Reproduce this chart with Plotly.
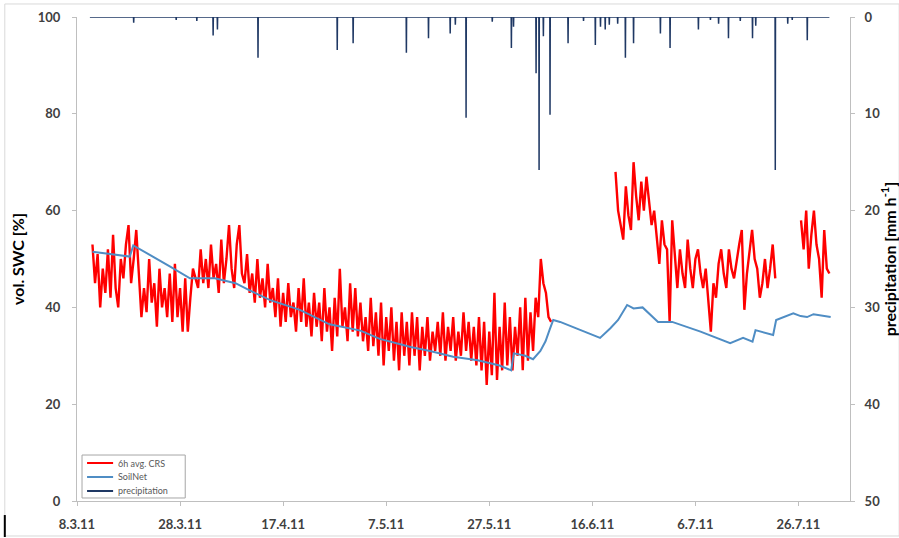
import pandas as pd
import plotly.graph_objects as go

# ---------------- data ----------------
# 6h avg. CRS soil water content [%], sampled every 12 h, three segments
crs_seg1_start = "2011-03-11 00:00"
crs_seg1 = [53, 45, 51, 40, 48, 43, 52, 42, 55, 44, 40, 50, 46, 53, 57, 45, 50, 56, 47, 38,
            44, 39, 50, 41, 45, 36, 48, 40, 44, 38, 47, 37, 49, 38, 44, 35, 46, 35, 42, 48,
            46, 44, 52, 45, 50, 44, 53, 46, 49, 43, 54, 45, 50, 57, 48, 44, 53, 57, 47, 45,
            51, 43, 47, 41, 50, 42, 46, 40, 49, 41, 44, 38, 46, 36, 43, 37, 45, 38, 41, 35,
            44, 37, 46, 36, 41, 34, 43, 36, 41, 33, 44, 35, 40, 31, 42, 34, 48, 36, 40, 33,
            45, 35, 44, 34, 41, 33, 38, 31, 42, 32, 39, 30, 41, 28, 38, 31, 40, 29, 37, 27,
            39, 30, 37, 28, 39, 30, 38, 27, 36, 30, 38, 29, 35, 31, 37, 30, 39, 29, 36, 31,
            38, 29, 35, 30, 39, 31, 37, 29, 36, 28, 38, 27, 37, 24, 35, 26, 43, 25, 36, 27,
            41, 28, 38, 27, 36, 30, 40, 27, 42, 29, 39, 31, 42, 38, 50, 45, 43, 38, 37]
crs_seg2_start = "2011-06-20 12:00"
crs_seg2 = [68, 60, 57, 54, 65, 59, 56, 70, 63, 58, 66, 60, 67, 62, 57, 60, 55, 49, 58, 53,
            52, 37, 58, 50, 44, 52, 47, 44, 54, 48, 44, 50, 52, 47, 44, 48, 42, 35, 45, 42,
            49, 52, 47, 44, 52, 48, 46, 50, 53, 56, 39.5, 47, 51, 56, 50, 48, 42, 45, 50, 44,
            48, 53, 46]
crs_seg3_start = "2011-07-26 12:00"
crs_seg3 = [58, 52, 60, 48, 55, 60, 53, 50, 42, 56, 48, 47]
crs_step = "12h"

# SoilNet soil water content [%]
soilnet_dates = ["2011-03-11 00:00", "2011-03-18 06:00", "2011-03-18 22:00", "2011-03-22 00:00",
                 "2011-03-26 00:00", "2011-03-29 22:00", "2011-04-03 18:00", "2011-04-07 18:00",
                 "2011-04-10 12:00", "2011-04-14 12:00", "2011-04-20 06:00", "2011-04-26 00:00",
                 "2011-05-02 00:00", "2011-05-05 18:00", "2011-05-11 18:00", "2011-05-15 12:00",
                 "2011-05-20 00:00", "2011-05-24 18:00", "2011-05-29 00:00", "2011-05-31 06:00",
                 "2011-05-31 18:00", "2011-06-03 00:00", "2011-06-04 12:00", "2011-06-05 22:00",
                 "2011-06-06 22:00", "2011-06-07 18:00", "2011-06-08 10:00", "2011-06-09 18:00",
                 "2011-06-13 18:00", "2011-06-17 12:00", "2011-06-19 12:00", "2011-06-21 00:00",
                 "2011-06-22 18:00", "2011-06-24 00:00", "2011-06-25 18:00", "2011-06-28 18:00",
                 "2011-07-01 12:00", "2011-07-07 00:00", "2011-07-12 18:00", "2011-07-15 06:00",
                 "2011-07-17 02:00", "2011-07-17 16:00", "2011-07-21 02:00", "2011-07-21 16:00",
                 "2011-07-25 00:00", "2011-07-26 10:00", "2011-07-27 16:00", "2011-07-28 22:00",
                 "2011-08-01 06:00"]
soilnet_values = [51.5, 50.5, 52.8, 51, 48.5, 46, 46, 45, 43.5, 41.5, 39.5, 36.5,
                  35.2, 33.5, 31.8, 31, 29.8, 29.1, 28, 27, 30.5, 30, 29.3, 31,
                  33, 35.5, 37.4, 37, 35.3, 33.7, 35.7, 37.4, 40.5, 39.8, 40, 37,
                  37, 35, 32.6, 33.7, 32.9, 35.3, 34.3, 37.4, 38.8, 38.2, 38, 38.6, 38]

# precipitation [mm/h] events
precip_start = "2011-03-10 12:00"
precip_end = "2011-08-01 00:00"
precip_dates = ["2011-03-19 00:00", "2011-03-27 06:00", "2011-03-31 06:00", "2011-04-03 10:00",
                "2011-04-04 06:00", "2011-04-12 03:00", "2011-04-27 12:00", "2011-04-30 14:00",
                "2011-05-10 22:00", "2011-05-15 05:00", "2011-05-19 10:00", "2011-05-20 10:00",
                "2011-05-22 12:00", "2011-05-27 14:00", "2011-05-31 07:00", "2011-05-31 17:00",
                "2011-06-05 02:00", "2011-06-05 16:00", "2011-06-06 12:00", "2011-06-07 19:00",
                "2011-06-11 07:00", "2011-06-14 07:00", "2011-06-16 14:00", "2011-06-17 14:00",
                "2011-06-18 12:00", "2011-06-19 07:00", "2011-06-20 22:00", "2011-06-22 10:00",
                "2011-06-24 00:00", "2011-06-29 05:00", "2011-07-01 02:00", "2011-07-06 14:00",
                "2011-07-08 22:00", "2011-07-10 12:00", "2011-07-12 10:00", "2011-07-14 17:00",
                "2011-07-17 02:00", "2011-07-17 17:00", "2011-07-21 12:00", "2011-07-23 22:00",
                "2011-07-24 19:00", "2011-07-27 17:00"]
precip_values = [0.6, 0.3, 0.4, 1.9, 1.3, 4.2, 3.4, 2.7, 3.7, 2.2, 1.7, 0.8,
                 10.4, 0.5, 3.2, 1.0, 5.8, 15.8, 2.0, 10.1, 2.7, 0.4, 2.9, 1.0,
                 1.3, 0.8, 0.7, 4.2, 2.7, 1.7, 3.2, 1.3, 0.3, 0.7, 2.2, 0.4,
                 2.2, 0.9, 15.8, 0.7, 0.3, 2.4]

tick_dates = ["2011-03-08", "2011-03-28", "2011-04-17", "2011-05-07",
              "2011-05-27", "2011-06-16", "2011-07-06", "2011-07-26"]
tick_labels = ["8.3.11", "28.3.11", "17.4.11", "7.5.11", "27.5.11", "16.6.11", "6.7.11", "26.7.11"]

series_names = ["6h avg. CRS", "SoilNet", "precipitation"]
series_colors = ["#FF0000", "#4F8DC4", "#1F3864"]

# ---------------- build series ----------------
crs_x, crs_y = [], []
for start, vals in [(crs_seg1_start, crs_seg1), (crs_seg2_start, crs_seg2), (crs_seg3_start, crs_seg3)]:
    idx = pd.date_range(start, periods=len(vals), freq=crs_step)
    crs_x += list(idx) + [None]
    crs_y += list(vals) + [None]

hour = pd.Timedelta(hours=1)
px_, py_ = [pd.Timestamp(precip_start)], [0]
for d, v in zip(precip_dates, precip_values):
    t = pd.Timestamp(d)
    px_ += [t - hour, t, t + hour]
    py_ += [0, v, 0]
px_.append(pd.Timestamp(precip_end))
py_.append(0)

FONT = "Lato"
AX = "#BFBFBF"
TICKC = "#404040"

fig = go.Figure()
fig.add_trace(go.Scatter(x=crs_x, y=crs_y, mode="lines", name=series_names[0],
                         line=dict(color=series_colors[0], width=2.4), connectgaps=False))
fig.add_trace(go.Scatter(x=pd.to_datetime(soilnet_dates), y=soilnet_values, mode="lines",
                         name=series_names[1], line=dict(color=series_colors[1], width=2)))
fig.add_trace(go.Scatter(x=px_, y=py_, mode="lines", name=series_names[2], yaxis="y2",
                         line=dict(color=series_colors[2], width=1.5)))

tickfont = dict(size=13, family=FONT, color=TICKC, weight="bold")
fig.update_layout(
    width=899, height=538,
    autosize=False,
    margin=dict(l=77, r=49, t=17, b=37, autoexpand=False),
    paper_bgcolor="white", plot_bgcolor="white",
    font=dict(family=FONT, color=TICKC),
    showlegend=False,
    xaxis=dict(range=["2011-03-08", "2011-08-05"], tickmode="array",
               tickvals=tick_dates, ticktext=tick_labels, automargin=False,
               showgrid=False, zeroline=False, showline=True, linecolor=AX, linewidth=1,
               ticks="outside", ticklen=4, tickcolor=AX, ticklabelstandoff=7,
               tickfont=tickfont),
    yaxis=dict(range=[0, 100], tickvals=[0, 20, 40, 60, 80, 100], automargin=False,
               showgrid=False, zeroline=False, showline=True, linecolor=AX, linewidth=1,
               ticks="outside", ticklen=4, tickcolor=AX, ticklabelstandoff=9,
               tickfont=tickfont,
               title=dict(text="vol. SWC [%]", standoff=9,
                          font=dict(size=16, family=FONT, color="#000000", weight="bold"))),
    yaxis2=dict(range=[50, 0], overlaying="y", side="right", automargin=False,
                tickvals=[0, 10, 20, 30, 40, 50],
                showgrid=False, zeroline=False, showline=True, linecolor=AX, linewidth=1,
                ticks="outside", ticklen=4, tickcolor=AX, ticklabelstandoff=7,
                tickfont=tickfont,
                title=dict(text="precipitation [mm h<sup>-1</sup>]", standoff=9,
                           font=dict(size=16, family=FONT, color="#000000", weight="bold"))),
)

# legend box drawn in the spreadsheet style (compact)
fig.add_shape(type="rect", xref="paper", yref="paper", x0=0.0065, x1=0.140, y0=0.0062, y1=0.095,
              line=dict(color="#A6A6A6", width=1), fillcolor="white", layer="above")
row_y = [0.0785, 0.0496, 0.0207]
for name, col, yy in zip(series_names, series_colors, row_y):
    fig.add_shape(type="line", xref="paper", yref="paper", x0=0.013, x1=0.0467, y0=yy, y1=yy,
                  line=dict(color=col, width=2), layer="above")
    fig.add_annotation(text=name, xref="paper", yref="paper", x=0.0506, y=yy,
                       xanchor="left", yanchor="middle", showarrow=False,
                       font=dict(size=9, family=FONT, color="#595959"))

# chart-area border like the spreadsheet frame
fig.add_shape(type="rect", xref="paper", yref="paper", x0=-0.0934, x1=1.0636, y0=-0.0723, y1=1.0269,
              line=dict(color="#D9D9D9", width=1), layer="below")
fig.add_shape(type="line", xref="paper", yref="paper", x0=-0.0934, x1=-0.0934, y0=-0.029, y1=-0.0744,
              line=dict(color="#000000", width=2))

fig.write_html("out.html", config={"displayModeBar": False},
               post_script="document.body.style.margin='0';")
